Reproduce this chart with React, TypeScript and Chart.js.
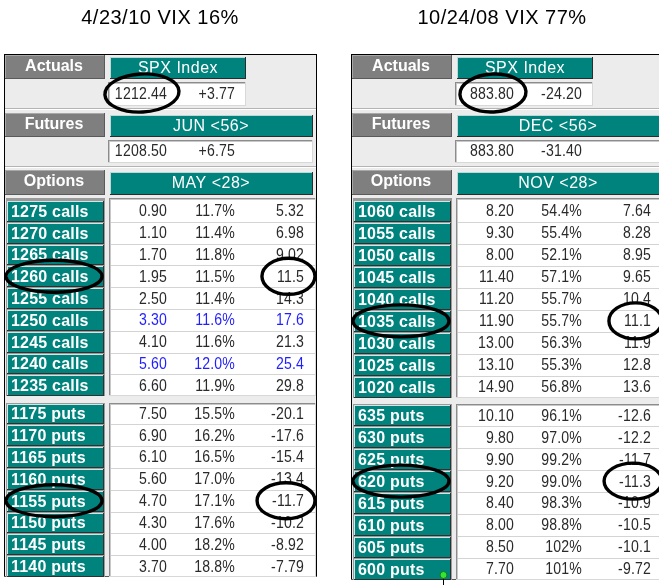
import React, { useEffect, useRef } from 'react';
import { Chart, registerables } from 'chart.js';

Chart.register(...registerables);

// ---------------- Left panel: 4/23/10 ----------------
const leftTitle = '4/23/10 VIX 16%';
const leftIndexLast = 1212.44;
const leftIndexChange = 3.77;
const leftFuturesMonth = 'JUN <56>';
const leftFuturesLast = 1208.5;
const leftFuturesChange = 6.75;
const leftOptionsMonth = 'MAY <28>';
const leftCallStrikes = [1275, 1270, 1265, 1260, 1255, 1250, 1245, 1240, 1235];
const leftCallPrices = [0.9, 1.1, 1.7, 1.95, 2.5, 3.3, 4.1, 5.6, 6.6];
const leftCallVols = [11.7, 11.4, 11.8, 11.5, 11.4, 11.6, 11.6, 12.0, 11.9];
const leftCallDeltas = [5.32, 6.98, 9.02, 11.5, 14.3, 17.6, 21.3, 25.4, 29.8];
const leftBlueStrikes = [1250, 1240];
const leftPutStrikes = [1175, 1170, 1165, 1160, 1155, 1150, 1145, 1140];
const leftPutPrices = [7.5, 6.9, 6.1, 5.6, 4.7, 4.3, 4.0, 3.7];
const leftPutVols = [15.5, 16.2, 16.5, 17.0, 17.1, 17.6, 18.2, 18.8];
const leftPutDeltas = [-20.1, -17.6, -15.4, -13.4, -11.7, -10.2, -8.92, -7.79];
const leftCircledCall = 1260;
const leftCircledPut = 1155;

// ---------------- Right panel: 10/24/08 ----------------
const rightTitle = '10/24/08 VIX 77%';
const rightIndexLast = 883.8;
const rightIndexChange = -24.2;
const rightFuturesMonth = 'DEC <56>';
const rightFuturesLast = 883.8;
const rightFuturesChange = -31.4;
const rightOptionsMonth = 'NOV <28>';
const rightCallStrikes = [1060, 1055, 1050, 1045, 1040, 1035, 1030, 1025, 1020];
const rightCallPrices = [8.2, 9.3, 8.0, 11.4, 11.2, 11.9, 13.0, 13.1, 14.9];
const rightCallVols = [54.4, 55.4, 52.1, 57.1, 55.7, 55.7, 56.3, 55.3, 56.8];
const rightCallDeltas = [7.64, 8.28, 8.95, 9.65, 10.4, 11.1, 11.9, 12.8, 13.6];
const rightBlueStrikes: number[] = [];
const rightPutStrikes = [635, 630, 625, 620, 615, 610, 605, 600];
const rightPutPrices = [10.1, 9.8, 9.9, 9.2, 8.4, 8.0, 8.5, 7.7];
const rightPutVols = [96.1, 97.0, 99.2, 99.0, 98.3, 98.8, 102, 101];
const rightPutDeltas = [-12.6, -12.2, -11.7, -11.3, -10.9, -10.5, -10.1, -9.72];
const rightCircledCall = 1035;
const rightCircledPut = 620;

// ---------------- Layout / style constants ----------------
const H = 585;
const PANEL_W = 313;
const GRID_TOP = 200;
const GAP = 0.29;
const FONT = "'Liberation Sans', Arial, sans-serif";
const TEAL = '#00837d';
const GREY = '#7f7f7f';
const PANEL_BG = '#ececec';
const TXT = '#2a2a2a';
const BLUE = '#1f1fff';
const VAL_SCALE = 0.88;

const fmtPrice = (v: number) => v.toFixed(2);
const fmtChange = (v: number) => (v > 0 ? '+' : '') + v.toFixed(2);
const fmtVol = (v: number) => (v >= 100 ? v.toFixed(0) : v.toFixed(1)) + '%';
const fmtDelta = (v: number) => (Math.abs(v) >= 10 ? v.toFixed(1) : v.toFixed(2));

type Panel = {
  title: string;
  indexLast: number;
  indexChange: number;
  futMonth: string;
  futLast: number;
  futChange: number;
  optMonth: string;
  callStrikes: number[];
  callPrices: number[];
  callVols: number[];
  callDeltas: number[];
  blue: number[];
  putStrikes: number[];
  putPrices: number[];
  putVols: number[];
  putDeltas: number[];
  circledCall: number;
  circledPut: number;
  cursorDot: boolean;
};

const leftPanel: Panel = {
  title: leftTitle, indexLast: leftIndexLast, indexChange: leftIndexChange,
  futMonth: leftFuturesMonth, futLast: leftFuturesLast, futChange: leftFuturesChange,
  optMonth: leftOptionsMonth,
  callStrikes: leftCallStrikes, callPrices: leftCallPrices, callVols: leftCallVols, callDeltas: leftCallDeltas,
  blue: leftBlueStrikes,
  putStrikes: leftPutStrikes, putPrices: leftPutPrices, putVols: leftPutVols, putDeltas: leftPutDeltas,
  circledCall: leftCircledCall, circledPut: leftCircledPut, cursorDot: false,
};

const rightPanel: Panel = {
  title: rightTitle, indexLast: rightIndexLast, indexChange: rightIndexChange,
  futMonth: rightFuturesMonth, futLast: rightFuturesLast, futChange: rightFuturesChange,
  optMonth: rightOptionsMonth,
  callStrikes: rightCallStrikes, callPrices: rightCallPrices, callVols: rightCallVols, callDeltas: rightCallDeltas,
  blue: rightBlueStrikes,
  putStrikes: rightPutStrikes, putPrices: rightPutPrices, putVols: rightPutVols, putDeltas: rightPutDeltas,
  circledCall: rightCircledCall, circledPut: rightCircledPut, cursorDot: true,
};

function makeTablePlugin(p: Panel, titleX: number) {
  return {
    id: 'optionTable',
    afterDraw(chart: any) {
      const { ctx, chartArea: ca } = chart;
      const xs = chart.scales.x;
      const ys = chart.scales.y;
      const px = (u: number) => Math.round(xs.getPixelForValue(u));
      const gy = (off: number) => Math.round(ca.top + off);
      const rowC = (v: number) => ys.getPixelForValue(v);
      const half = Math.abs(ys.getPixelForValue(1) - ys.getPixelForValue(0)) / 2;

      const rect = (x0: number, y0: number, x1: number, y1: number, c: string) => {
        ctx.fillStyle = c;
        ctx.fillRect(x0, y0, x1 - x0, y1 - y0);
      };
      const hline = (x0: number, x1: number, y: number, c: string) => rect(x0, y, x1, y + 1, c);
      const vline = (x: number, y0: number, y1: number, c: string) => rect(x, y0, x + 1, y1, c);
      const bevel = (x0: number, y0: number, x1: number, y1: number, fill: string, light: string, dark: string) => {
        rect(x0, y0, x1, y1, fill);
        hline(x0, x1, y0, light);
        vline(x0, y0, y1, light);
        hline(x0, x1, y1 - 1, dark);
        vline(x1 - 1, y0, y1, dark);
      };
      const sunken = (x0: number, y0: number, x1: number, y1: number) => {
        rect(x0, y0, x1, y1, '#ffffff');
        hline(x0, x1, y0, '#8c8c8c');
        vline(x0, y0, y1, '#8c8c8c');
        hline(x0 + 1, x1, y0 + 1, '#c8c8c8');
        vline(x0 + 1, y0 + 1, y1, '#c8c8c8');
        hline(x0, x1, y1 - 1, '#d8d8d8');
        vline(x1 - 1, y0, y1, '#d8d8d8');
      };
      const text = (s: string, x: number, y: number, font: string, color: string, align: string, spacing = '0px', sx = 1) => {
        ctx.save();
        ctx.font = font;
        ctx.fillStyle = color;
        ctx.textAlign = align;
        ctx.textBaseline = 'middle';
        ctx.letterSpacing = spacing;
        ctx.translate(x, y);
        ctx.scale(sx, 1);
        ctx.fillText(s, 0, 0);
        const w = ctx.measureText(s).width * sx;
        ctx.restore();
        return w;
      };
      const val = (s: string, x: number, y: number, color: string) =>
        text(s, x, y, `16px ${FONT}`, color, 'right', '0.2px', VAL_SCALE);
      const ellipse = (cx: number, cy: number, rx: number, ry: number, rot = 0) => {
        ctx.beginPath();
        ctx.ellipse(cx, cy, rx, ry, rot, 0, Math.PI * 2);
        ctx.strokeStyle = '#000';
        ctx.lineWidth = 3.4;
        ctx.stroke();
      };

      ctx.save();

      // Title
      text(p.title, titleX, 18, `20px ${FONT}`, '#000', 'center', '0.5px');

      // Panel background and frame
      const L = px(0);
      const R = px(PANEL_W);
      const T = gy(-146);
      const B = Math.round(ca.bottom);
      rect(L, T, R, B, PANEL_BG);
      hline(L, R, T, '#000');
      vline(L, T, B, '#000');
      vline(R - 1, T, B, '#000');
      hline(L, R, B - 1, '#555');

      const hdrFont = `bold 16px ${FONT}`;
      const tealFont = `16px ${FONT}`;

      // ---- Actuals ----
      bevel(px(1), gy(-145), px(101), gy(-121), GREY, '#a8a8a8', '#5a5a5a');
      text('Actuals', px(50), gy(-133), hdrFont, '#fff', 'center');
      bevel(px(106), gy(-143), px(242), gy(-121), TEAL, '#bcd9d7', '#2b2b2b');
      text('SPX Index', px(174), gy(-131.5), tealFont, '#fff', 'center', '0.5px');
      sunken(px(104), gy(-118), px(242), gy(-94));
      const lastW = val(fmtPrice(p.indexLast), px(163), gy(-105.5), TXT);
      val(fmtChange(p.indexChange), px(231), gy(-105.5), TXT);

      hline(L + 1, R - 1, gy(-92), '#b4b4b4');
      hline(L + 1, R - 1, gy(-91), '#ffffff');

      // ---- Futures ----
      bevel(px(1), gy(-87), px(101), gy(-63), GREY, '#a8a8a8', '#5a5a5a');
      text('Futures', px(50), gy(-75), hdrFont, '#fff', 'center');
      bevel(px(106), gy(-85), px(309), gy(-63), TEAL, '#bcd9d7', '#2b2b2b');
      text(p.futMonth, px(207), gy(-73.5), tealFont, '#fff', 'center', '0.5px');
      sunken(px(104), gy(-60), px(309), gy(-37));
      val(fmtPrice(p.futLast), px(163), gy(-48), TXT);
      val(fmtChange(p.futChange), px(231), gy(-48), TXT);

      hline(L + 1, R - 1, gy(-34), '#b4b4b4');
      hline(L + 1, R - 1, gy(-33), '#ffffff');

      // ---- Options ----
      bevel(px(1), gy(-30), px(101), gy(-5), GREY, '#a8a8a8', '#5a5a5a');
      text('Options', px(50), gy(-18), hdrFont, '#fff', 'center');
      bevel(px(106), gy(-28), px(309), gy(-5), TEAL, '#bcd9d7', '#2b2b2b');
      text(p.optMonth, px(207), gy(-16), tealFont, '#fff', 'center', '0.5px');

      // ---- Grid ----
      const nC = p.callStrikes.length;
      const nP = p.putStrikes.length;
      const rows: any[] = [];
      p.callStrikes.forEach((k, i) => rows.push({
        v: i, label: `${k} calls`, price: p.callPrices[i], vol: p.callVols[i], delta: p.callDeltas[i],
        blue: p.blue.includes(k), circled: k === p.circledCall,
      }));
      p.putStrikes.forEach((k, j) => rows.push({
        v: nC + GAP + j, label: `${k} puts`, price: p.putPrices[j], vol: p.putVols[j], delta: p.putDeltas[j],
        blue: false, circled: k === p.circledPut,
      }));

      const boxes = [
        [Math.round(rowC(0) - half) - 2, Math.round(rowC(nC - 1) + half)],
        [Math.round(rowC(nC + GAP) - half), Math.round(rowC(nC + GAP + nP - 1) + half)],
      ];
      boxes.forEach(([y0, y1]) => {
        rect(px(2), y0, px(101), y1, '#9a9a9a');
        sunken(px(105), y0, px(312), y1);
      });

      const ellipses: any[] = [];
      rows.forEach((r, idx) => {
        const cy = rowC(r.v);
        const y0 = Math.round(cy - half);
        const y1 = Math.round(cy + half);
        bevel(px(3), y0 + 1, px(100), y1, TEAL, '#d2e6e5', '#303030');
        text(r.label, px(6.5), cy + 1.5, `bold 16px ${FONT}`, '#fff', 'left', '0.2px');
        if (y1 < boxes[0][1] - 1 || (y1 > boxes[1][0] && y1 < boxes[1][1] - 1)) {
          hline(px(107), px(311), y1, '#d4d4d4');
        }
        const c = r.blue ? BLUE : TXT;
        val(fmtPrice(r.price), px(163), cy + 1, c);
        val(fmtVol(r.vol), px(231), cy + 1, c);
        const dw = val(fmtDelta(r.delta), px(300), cy + 1, c);
        if (r.circled) {
          ellipses.push([px(50), cy, 48, 16]);
          ellipses.push([px(300) - dw / 2 - 2, cy, dw / 2 + 13, 18]);
        }
        if (p.cursorDot && idx === rows.length - 1) {
          const dx = px(92);
          const dy = cy + 6;
          vline(dx, dy, H, '#000');
          ctx.beginPath();
          ctx.arc(dx + 0.5, dy, 3.5, 0, Math.PI * 2);
          ctx.fillStyle = '#33e633';
          ctx.fill();
          ctx.lineWidth = 1;
          ctx.strokeStyle = '#1a7a1a';
          ctx.stroke();
        }
      });

      // ---- Hand-drawn circles ----
      ellipse(px(163) - lastW / 2 + 1, gy(-107), lastW / 2 + 11, 19, -0.05);
      ellipses.forEach(([cx, cy, rx, ry]) => ellipse(cx, cy, rx, ry));

      ctx.restore();
    },
  };
}

function TablePanel({ panel, canvasWidth, panelLeft, gridBottom, titleX }: any) {
  const ref = useRef<HTMLCanvasElement>(null);
  useEffect(() => {
    const canvas = ref.current as HTMLCanvasElement;
    const nRows = panel.callStrikes.length + panel.putStrikes.length;
    const chart = new Chart(canvas, {
      type: 'scatter',
      data: { datasets: [] },
      options: {
        animation: false,
        responsive: false,
        devicePixelRatio: 1,
        layout: {
          padding: {
            left: panelLeft,
            right: canvasWidth - panelLeft - PANEL_W,
            top: GRID_TOP,
            bottom: H - gridBottom,
          },
        },
        scales: {
          x: { type: 'linear', display: false, min: 0, max: PANEL_W },
          y: { type: 'linear', display: false, reverse: true, min: -0.5, max: nRows - 0.5 + GAP },
        },
        plugins: {
          legend: { display: false },
          title: { display: false },
          tooltip: { enabled: false },
        },
      },
      plugins: [makeTablePlugin(panel, titleX)],
    } as any);
    return () => chart.destroy();
  }, []);
  return <canvas ref={ref} width={canvasWidth} height={H} style={{ display: 'block' }} />;
}

export default function App() {
  return (
    <div style={{ position: 'fixed', left: 0, top: 0, width: 659, height: H, background: '#fff', overflow: 'hidden' }}>
      <div style={{ position: 'absolute', left: 0, top: 0, width: 330, height: H, overflow: 'hidden' }}>
        <TablePanel panel={leftPanel} canvasWidth={330} panelLeft={4} gridBottom={577} titleX={160} />
      </div>
      <div style={{ position: 'absolute', left: 330, top: 0, width: 329, height: H, overflow: 'hidden' }}>
        <TablePanel panel={rightPanel} canvasWidth={340} panelLeft={21} gridBottom={580} titleX={172} />
      </div>
    </div>
  );
}
